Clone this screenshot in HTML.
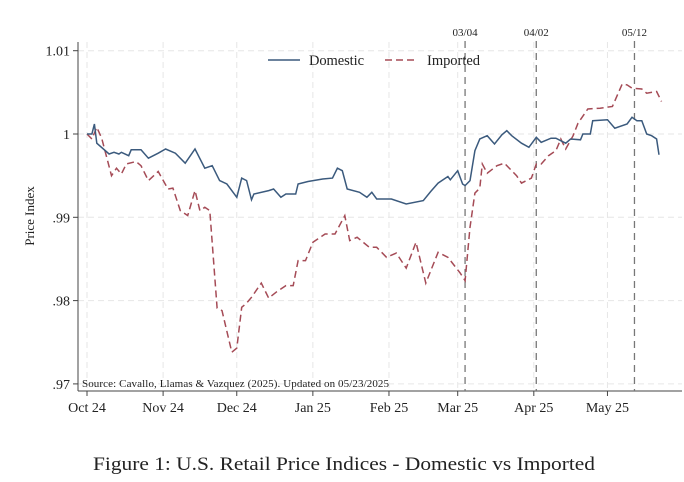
<!DOCTYPE html>
<html><head><meta charset="utf-8"><style>
body{margin:0;background:#fff;}
svg{display:block;font-family:"Liberation Serif",serif;}
</style></head><body>
<svg id="chart" width="684" height="482">
<g id="grid"></g>
<g id="axes"></g>
<g id="events"></g>
<g id="series"></g>
<g>
<line x1="268" y1="60" x2="300" y2="60" stroke="#3b5a7d" stroke-width="1.6"/>
<text x="309" y="65" font-size="14.5" fill="#222" textLength="55">Domestic</text>
<line x1="385" y1="60" x2="418" y2="60" stroke="#a54b56" stroke-width="1.6" stroke-dasharray="7,4"/>
<text x="427" y="65" font-size="14.5" fill="#222" textLength="53">Imported</text>
</g>
<text x="82" y="387" font-size="11" fill="#222" textLength="307">Source: Cavallo, Llamas &amp; Vazquez (2025). Updated on 05/23/2025</text>
<text transform="translate(34,216) rotate(-90)" text-anchor="middle" font-size="13" fill="#222">Price Index</text>
<text x="93" y="470" font-size="19" fill="#222" textLength="502" lengthAdjust="spacingAndGlyphs">Figure 1: U.S. Retail Price Indices - Domestic vs Imported</text>
</svg>
<script>
const yTicks=[1.01,1,0.99,0.98,0.97];
const yTickLabels=["1.01","1",".99",".98",".97"];
const xTickDays=[0,31,61,92,123,151,182,212];
const xTickLabels=["Oct 24","Nov 24","Dec 24","Jan 25","Feb 25","Mar 25","Apr 25","May 25"];
const eventDays=[154,183,223];
const eventLabels=["03/04","04/02","05/12"];
const domDays=[0,2,3,4,9,11,13,14,17,18,22,25,29,32,36,40,44,48,51,54,57,61,63,65,67,68,74,76,79,81,85,86,90,96,100,102,104,106,111,114,116,118,123,124,130,137,140,143,147,148,151,153,154,156,158,160,163,166,169,171,173,177,180,183,185,189,191,195,197,201,202,205,206,212,215,220,222,224,226,228,230,232,233];
const domVals=[1.0000,1.0000,1.0012,0.9989,0.9976,0.9978,0.9976,0.9978,0.9974,0.9981,0.9981,0.9971,0.9977,0.9982,0.9977,0.9965,0.9982,0.9959,0.9962,0.9944,0.9940,0.9924,0.9947,0.9944,0.9921,0.9928,0.9932,0.9934,0.9924,0.9928,0.9928,0.9940,0.9943,0.9946,0.9947,0.9959,0.9956,0.9934,0.9930,0.9924,0.9930,0.9922,0.9922,0.9922,0.9916,0.9920,0.9931,0.9941,0.9949,0.9945,0.9956,0.9940,0.9938,0.9944,0.9980,0.9994,0.9998,0.9988,0.9999,1.0004,0.9998,0.9989,0.9984,0.9996,0.9990,0.9995,0.9995,0.9989,0.9994,0.9993,1.0000,1.0000,1.0016,1.0017,1.0007,1.0012,1.0020,1.0016,1.0016,1.0000,0.9998,0.9994,0.9975];
const impDays=[0,2,4,6,10,12,14,16,20,22,25,29,33,35,38,41,44,46,48,50,53,55,59,61,63,65,67,71,74,77,81,84,86,89,92,97,101,105,107,110,115,118,122,126,130,134,138,143,147,152,154,156,158,160,161,163,167,170,175,177,181,183,185,188,191,193,195,198,200,204,209,214,218,220,222,226,228,232,234];
const impVals=[1.0000,0.9994,1.0008,0.9995,0.9950,0.9959,0.9952,0.9964,0.9967,0.9962,0.9944,0.9955,0.9934,0.9935,0.9908,0.9902,0.9932,0.9908,0.9912,0.9908,0.9791,0.9788,0.9738,0.9743,0.9792,0.9797,0.9804,0.9821,0.9803,0.9810,0.9818,0.9818,0.9848,0.9848,0.9870,0.9880,0.9880,0.9902,0.9872,0.9876,0.9864,0.9864,0.9852,0.9857,0.9839,0.9870,0.9821,0.9858,0.9852,0.9833,0.9824,0.9888,0.9929,0.9935,0.9964,0.9953,0.9962,0.9965,0.9950,0.9941,0.9947,0.9964,0.9964,0.9974,0.9980,0.9994,0.9982,0.9998,1.0013,1.0030,1.0031,1.0033,1.0060,1.0059,1.0055,1.0054,1.0049,1.0051,1.0039];

const NS="http://www.w3.org/2000/svg";
const xS=d=>87+d*2.455;
const yS=v=>134-(v-1)*8330;
const L=78,R=682,T=42,B=391;
function mk(tag,attrs,parent){const e=document.createElementNS(NS,tag);for(const k in attrs)e.setAttribute(k,attrs[k]);parent.appendChild(e);return e;}
const grid=document.getElementById('grid'),axes=document.getElementById('axes'),ev=document.getElementById('events'),ser=document.getElementById('series');
yTicks.forEach((v,i)=>{
  const g=mk('line',{x1:L,x2:R,y1:yS(v),y2:yS(v),stroke:'#e6e6e6','stroke-width':1,'stroke-dasharray':'6,4'},grid);
  
  
  const t=mk('line',{x1:L-5,x2:L,y1:yS(v),y2:yS(v),stroke:'#444'},axes);
  
  
  const tx=mk('text',{x:L-8,y:yS(v)+5,'text-anchor':'end','font-size':14,fill:'#222'},axes);
  tx.textContent=yTickLabels[i];
  
  
});
xTickDays.forEach((d,i)=>{
  const g=mk('line',{x1:xS(d),x2:xS(d),y1:T,y2:B,stroke:'#e6e6e6','stroke-width':1,'stroke-dasharray':'6,4'},grid);
  
  
  const t=mk('line',{x1:xS(d),x2:xS(d),y1:B,y2:B+5,stroke:'#444'},axes);
  
  
  const tx=mk('text',{x:xS(d),y:B+21,'text-anchor':'middle','font-size':14,fill:'#222'},axes);
  tx.textContent=xTickLabels[i];
  
  
});
const ya=mk('line',{x1:L,x2:L,y1:T,y2:B,stroke:'#444','stroke-width':1},axes);


const xa=mk('line',{x1:L,x2:R,y1:B,y2:B,stroke:'#444','stroke-width':1},axes);


eventDays.forEach((d,i)=>{
  const l=mk('line',{x1:xS(d),x2:xS(d),y1:41,y2:B,stroke:'#777','stroke-width':1.3,'stroke-dasharray':'7,5'},ev);
  
  
  const tx=mk('text',{x:xS(d),y:36,'text-anchor':'middle','font-size':11,fill:'#222'},ev);
  tx.textContent=eventLabels[i];
  
  
});
function path(days,vals){return days.map((d,i)=>(i?'L':'M')+xS(d).toFixed(1)+','+yS(vals[i]).toFixed(1)).join('');}
const pi=mk('path',{d:path(impDays,impVals),fill:'none',stroke:'#a54b56','stroke-width':1.5,'stroke-dasharray':'7,4'},ser);


const pd=mk('path',{d:path(domDays,domVals),fill:'none',stroke:'#3b5a7d','stroke-width':1.5},ser);


</script>
</body></html>
